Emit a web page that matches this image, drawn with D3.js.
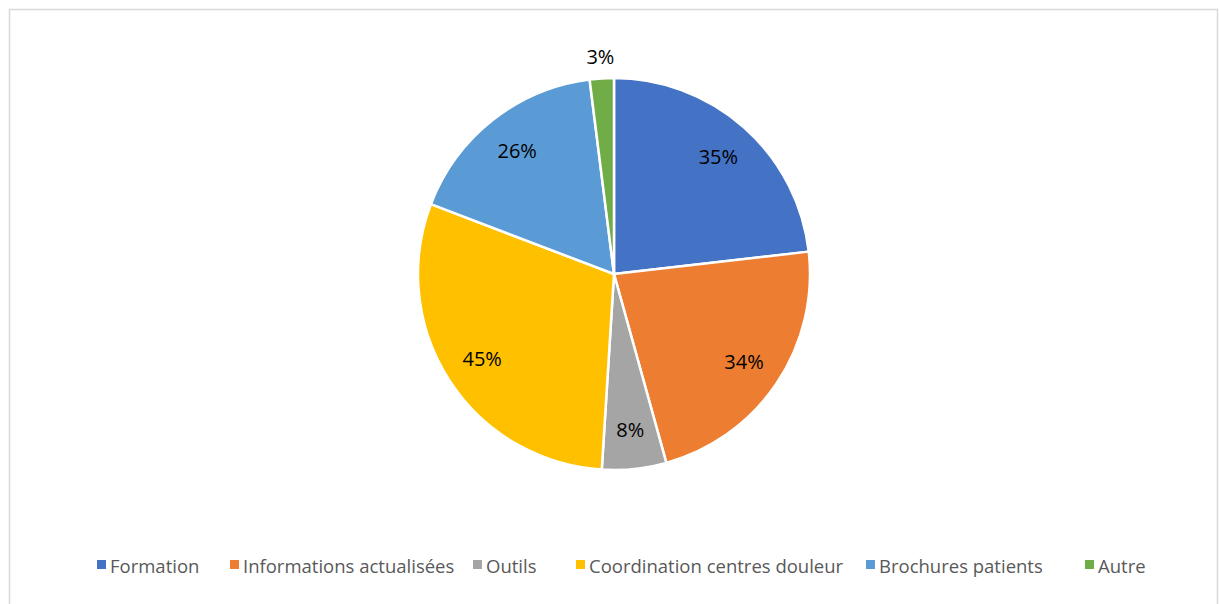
<!DOCTYPE html>
<html><head><meta charset="utf-8">
<script src="https://cdn.jsdelivr.net/npm/d3@7"></script>
<style>body{margin:0;background:#fff}svg{display:block}</style>
</head><body>
<svg id="c" width="1219" height="604"></svg>
<script>
const categories = ["Formation","Informations actualisées","Outils","Coordination centres douleur","Brochures patients","Autre"];
const values = [35,34,8,45,26,3];
const labels = ["35%","34%","8%","45%","26%","3%"];
const colors = ["#4472c4","#ed7d31","#a5a5a5","#ffc000","#5b9bd5","#70ad47"];

const svg = d3.select("#c");
svg.append("rect").attr("x",9.5).attr("y",9.5).attr("width",1208).attr("height",600)
  .attr("fill","#fff").attr("stroke","#d9d9d9").attr("stroke-width",1.5);

const cx = 614, cy = 274, R = 196;
const data = categories.map((c,i)=>({c, v:values[i], l:labels[i], col:colors[i]}));
const pie = d3.pie().value(d=>d.v).sort(null);
const arcs = pie(data);
const arc = d3.arc().innerRadius(0).outerRadius(R);
const g = svg.append("g").attr("transform",`translate(${cx},${cy})`);
g.selectAll("path").data(arcs).join("path")
  .attr("d",arc).attr("fill",d=>d.data.col).attr("stroke","#fff").attr("stroke-width",2.5).attr("stroke-linejoin","round");

g.selectAll("text").data(arcs).join("text")
  .attr("transform",d=>{
    const a=(d.startAngle+d.endAngle)/2;
    const frac = d.data.v/d3.sum(values);
    const r = frac < 0.04 ? R+22 : R*0.8;
    return `translate(${Math.sin(a)*r},${-Math.cos(a)*r})`;
  })
  .attr("text-anchor","middle").attr("dominant-baseline","central")
  .attr("font-family","'Open Sans', 'Liberation Sans', sans-serif").attr("font-size",20)
  .attr("fill","#000").text(d=>d.data.l);

const legX = [97,230,473,576,866,1085];
const lg = svg.append("g");
data.forEach((d,i)=>{
  lg.append("rect").attr("x",legX[i]).attr("y",560).attr("width",9).attr("height",9).attr("fill",d.col);
  lg.append("text").attr("x",legX[i]+13).attr("y",565).attr("dominant-baseline","central")
    .attr("font-family","'Open Sans', 'Liberation Sans', sans-serif").attr("font-size",18.5)
    .attr("fill","#595959").text(d.c);
});
</script>
</body></html>
